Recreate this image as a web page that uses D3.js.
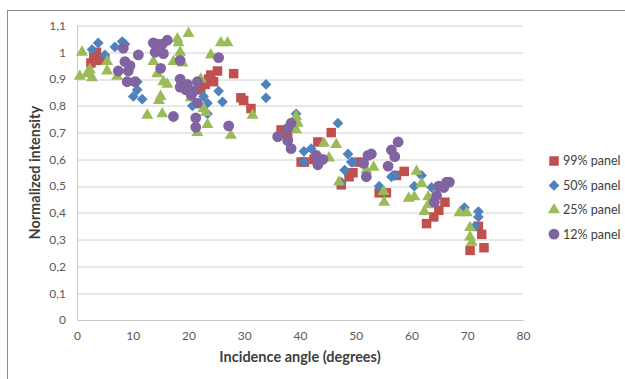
<!DOCTYPE html>
<html>
<head>
<meta charset="utf-8">
<script src="https://cdn.jsdelivr.net/npm/d3@7"></script>
<style>
  body { margin: 0; background: #fff; }
  text { font-family: Lato, "Noto Sans", sans-serif; }
</style>
</head>
<body>
<div id="chart"></div>
<script>
// series values: [angle, normalized intensity]
const red99 = [[2.5,0.96],[3,0.99],[3.5,1.0],[4,0.97],[5,0.97],[22.2,0.86],[23,0.88],[23.6,0.9],[24,0.915],
  [25.2,0.93],[24.5,0.89],[28.1,0.92],[29.4,0.83],[29.9,0.82],[31.2,0.79],[36.6,0.71],[37.8,0.69],[40.2,0.59],
  [40.8,0.59],[43.2,0.665],[45.6,0.70],[42.5,0.6],[47.4,0.505],[48.8,0.535],[50.6,0.59],[49.5,0.55],[54.2,0.475],
  [55.5,0.475],[57.3,0.54],[58.7,0.555],[62.7,0.36],[64,0.385],[64.9,0.41],[66,0.44],[70.5,0.26],[73,0.27],
  [72.6,0.32],[72,0.35]];
const blue50 = [[2.7,1.01],[3.8,1.035],[5,0.99],[6.8,1.02],[8.1,1.04],[8.6,1.03],[10.8,0.89],[10.1,0.835],
  [11.7,0.825],[10.8,0.86],[20.7,0.8],[22.7,0.835],[23.4,0.81],[23.4,0.77],[25.4,0.855],[26.1,0.815],[33.9,0.88],
  [33.9,0.83],[39.3,0.77],[40.7,0.63],[40.7,0.59],[42,0.64],[46.8,0.735],[48.6,0.62],[48,0.56],[49.2,0.59],
  [49.5,0.59],[47.4,0.515],[52.8,0.62],[54.2,0.5],[56.4,0.535],[57,0.54],[61.8,0.54],[60.5,0.5],[63.6,0.495],
  [69.5,0.42],[72,0.405],[72,0.385],[71.4,0.35]];
const green25 = [[0.9,1.0],[0.5,0.91],[2.7,0.905],[2.3,0.935],[1.8,0.92],[5.4,0.965],[5.4,0.93],[7.2,0.91],
  [12.6,0.765],[15.3,0.77],[15,0.835],[14.7,0.82],[14.4,0.92],[15.5,0.89],[16.2,0.88],[13.7,0.965],[17.3,0.965],
  [18.2,1.035],[18,1.05],[20,1.07],[18.9,0.96],[18.5,1.0],[20.4,0.83],[22.2,0.9],[22.7,0.79],[21.6,0.7],[23.4,0.73],
  [23.1,0.775],[24,0.99],[25.8,1.035],[27,1.035],[27.6,0.69],[31.5,0.765],[39.3,0.76],[39.6,0.735],[39.3,0.71],
  [44.3,0.66],[46.5,0.655],[45.2,0.605],[47,0.515],[51.9,0.56],[53.2,0.57],[55.1,0.44],[55,0.48],[59.5,0.455],
  [60.5,0.46],[60.9,0.555],[61.8,0.51],[62.3,0.405],[63,0.46],[63,0.43],[68.6,0.4],[69.9,0.4],[70.5,0.345],
  [70.5,0.31],[70.8,0.29]];
const purple12 = [[8.3,1.015],[8.6,0.965],[7.4,0.93],[9.2,0.93],[9.5,0.95],[9,0.89],[10.4,0.89],[11,0.99],
  [13.7,1.035],[14,1.0],[14.5,1.03],[15.3,1.03],[16.2,1.045],[15.5,0.995],[15,0.94],[18.5,0.97],[17.3,0.76],
  [18.5,0.9],[18.5,0.87],[19.5,0.86],[19.8,0.88],[20.5,0.84],[20.9,0.855],[21.6,0.89],[21.6,0.81],[21.3,0.755],
  [21.3,0.72],[25.4,0.98],[27.2,0.725],[36,0.685],[37.8,0.715],[38.4,0.735],[37.8,0.67],[38.4,0.64],[42.9,0.615],
  [43.2,0.58],[44.1,0.6],[51.4,0.585],[52.2,0.615],[52.8,0.62],[51.9,0.535],[55.8,0.575],[56.4,0.635],[57,0.61],
  [57.6,0.665],[64.5,0.465],[64.9,0.5],[66.3,0.515],[66.8,0.515],[64.1,0.44],[65.8,0.495]];

const seriesNames = ["99% panel", "50% panel", "25% panel", "12% panel"];
const xTicks = [0, 10, 20, 30, 40, 50, 60, 70, 80];
const yTicks = [0, 0.1, 0.2, 0.3, 0.4, 0.5, 0.6, 0.7, 0.8, 0.9, 1, 1.1];

const series = [
  { name: seriesNames[0], values: red99, color: "#C0504D", shape: "square" },
  { name: seriesNames[1], values: blue50, color: "#4F81BD", shape: "diamond" },
  { name: seriesNames[2], values: green25, color: "#9BBB59", shape: "triangle" },
  { name: seriesNames[3], values: purple12, color: "#8064A2", shape: "circle" }
];

const W = 625, H = 379;
const margin = { top: 25.5, right: 102, bottom: 59, left: 77 };
const width = W - margin.left - margin.right;
const height = H - margin.top - margin.bottom;

const svg = d3.select("#chart").append("svg")
  .attr("width", W)
  .attr("height", H);

// outer chart border
svg.append("rect")
  .attr("x", 7.5).attr("y", 10.5)
  .attr("width", 640).attr("height", 400)
  .attr("fill", "none")
  .attr("stroke", "#8c8c8c")
  .attr("stroke-width", 1);

const g = svg.append("g")
  .attr("transform", "translate(" + margin.left + "," + margin.top + ")");

const x = d3.scaleLinear().domain([0, 80]).range([0, width]);
const y = d3.scaleLinear().domain([0, 1.1]).range([height, 0]);

const fmt = d => d3.format(".1~f")(d).replace(".", ",");

// gridlines
g.append("g")
  .selectAll("line")
  .data(yTicks.slice(1))
  .enter()
  .append("line")
  .attr("x1", 0).attr("x2", width)
  .attr("y1", d => Math.round(y(d)) + 0.5).attr("y2", d => Math.round(y(d)) + 0.5)
  .attr("stroke", "#d0d0d0");

const yAxis = g.append("g")
  .call(d3.axisLeft(y).tickValues(yTicks).tickFormat(fmt).tickSize(0).tickPadding(11));
yAxis.select(".domain").attr("stroke", "#c8c8c8");

const xAxis = g.append("g")
  .attr("transform", "translate(0," + height + ")")
  .call(d3.axisBottom(x).tickValues(xTicks).tickSize(0).tickPadding(11));
xAxis.select(".domain").attr("stroke", "#c8c8c8");

g.selectAll(".tick text")
  .style("font-size", "12px")
  .attr("fill", "#595959");

svg.append("text")
  .attr("transform", "rotate(-90)")
  .attr("x", -(margin.top + height / 2))
  .attr("y", 40)
  .attr("text-anchor", "middle")
  .style("font-size", "14.5px")
  .style("font-weight", "bold")
  .attr("fill", "#404040")
  .text("Normalized intensity");

svg.append("text")
  .attr("x", margin.left + width / 2)
  .attr("y", 362)
  .attr("text-anchor", "middle")
  .style("font-size", "14.5px")
  .style("font-weight", "bold")
  .attr("fill", "#404040")
  .text("Incidence angle (degrees)");

const symbolPath = {
  square: d3.symbol().type(d3.symbolSquare).size(90)(),
  diamond: d3.symbol().type(d3.symbolSquare).size(58)(),
  triangle: d3.symbol().type(d3.symbolTriangle).size(62)(),
  circle: d3.symbol().type(d3.symbolCircle).size(92)()
};
const rot = s => s.shape === "diamond" ? " rotate(45)" : "";

series.forEach(s => {
  g.append("g")
    .selectAll("path")
    .data(s.values)
    .enter()
    .append("path")
    .attr("d", symbolPath[s.shape])
    .attr("transform", d => "translate(" + x(d[0]) + "," + y(d[1]) + ")" + rot(s))
    .attr("fill", s.color);
});

// legend
const legend = svg.append("g")
  .selectAll("g")
  .data(series)
  .enter()
  .append("g")
  .attr("transform", (d, i) => "translate(554," + (161 + i * 24.4) + ")");

legend.append("path")
  .attr("d", d => symbolPath[d.shape])
  .attr("transform", d => d.shape === "diamond" ? "rotate(45)" : "")
  .attr("fill", d => d.color);

legend.append("text")
  .attr("x", 9)
  .attr("dy", "0.35em")
  .style("font-size", "12.5px")
  .attr("fill", "#404040")
  .text(d => d.name);
</script>
</body>
</html>
